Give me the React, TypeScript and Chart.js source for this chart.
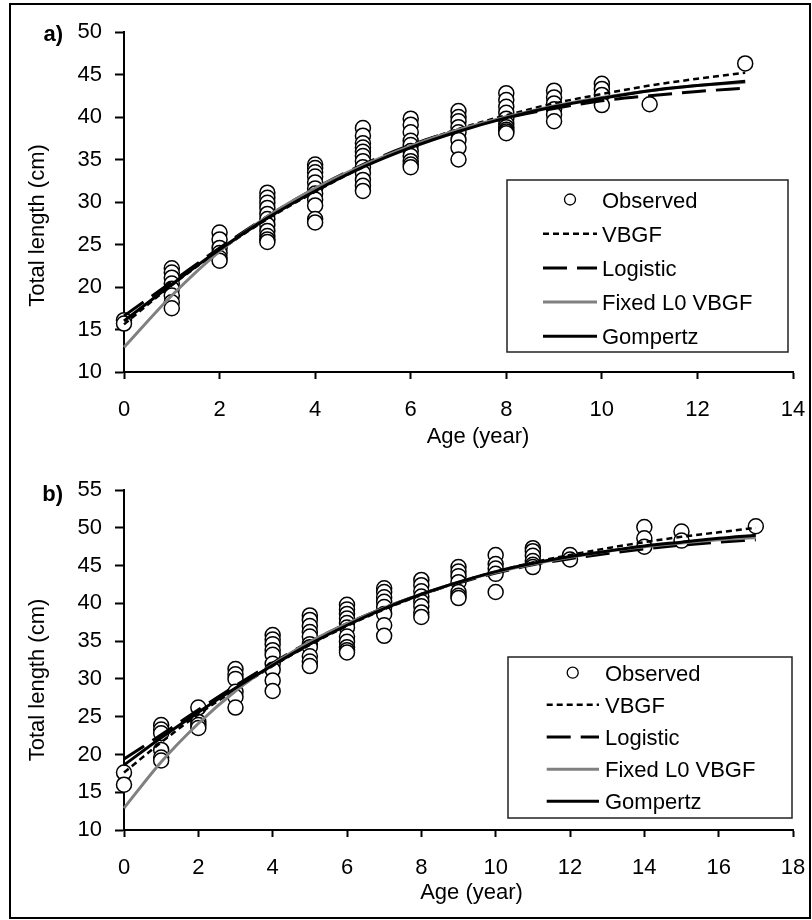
import { useEffect, useRef } from "react";
import { Chart, registerables } from "chart.js";

Chart.register(...registerables);

const FONT_FAMILY = '"Liberation Sans", Arial, Helvetica, sans-serif';
const FONT_SIZE = 22;

const SERIES_NAMES = ["Observed", "VBGF", "Logistic", "Fixed L0 VBGF", "Gompertz"];
const X_TITLE = "Age (year)";
const Y_TITLE = "Total length (cm)";

// ---------- Panel a ----------
const obsAgesA = [0, 1, 2, 3, 4, 5, 6, 7, 8, 9, 10, 11, 13];
const obsLengthsA = [
  [16.1, 15.7],
  [22.2, 21.7, 21.1, 20.4, 19.8, 19.0, 18.2, 17.5],
  [26.4, 25.6, 24.6, 24.0, 23.4, 23.1],
  [31.1, 30.5, 29.9, 29.3, 28.6, 28.0, 27.3, 26.6, 26.0, 25.6, 25.3],
  [34.4, 34.0, 33.5, 33.0, 32.3, 31.6, 31.0, 30.3, 29.6, 28.0, 27.6],
  [38.7, 37.8, 36.9, 36.4, 35.9, 35.4, 34.8, 34.1, 33.4, 32.6, 31.9, 31.3],
  [39.8, 39.1, 38.2, 37.2, 36.7, 36.0, 35.4, 34.8, 34.4, 34.1],
  [40.7, 40.0, 39.5, 38.8, 38.2, 37.3, 36.4, 35.0],
  [42.8, 42.0, 41.2, 40.5, 39.8, 39.2, 38.8, 38.5, 38.3, 38.1],
  [43.1, 42.3, 41.6, 40.9, 40.3, 39.5],
  [43.9, 43.3, 42.6, 41.4],
  [41.5],
  [46.3],
];
const curveAgesA = [0, 1, 2, 3, 4, 5, 6, 7, 8, 9, 10, 11, 12, 13];
const vbgfA = [15.6, 20.2, 24.3, 28.0, 31.2, 34.1, 36.6, 38.6, 40.2, 41.6, 42.7, 43.7, 44.5, 45.2];
const logisticA = [16.6, 20.6, 24.6, 28.3, 31.6, 34.4, 36.7, 38.5, 39.9, 41.0, 41.9, 42.5, 43.0, 43.4];
const fixedL0A = [12.9, 19.0, 24.2, 28.3, 31.6, 34.3, 36.6, 38.5, 40.0, 41.3, 42.3, 43.1, 43.7, 44.1];
const gompertzA = [16.0, 20.3, 24.4, 28.1, 31.3, 34.1, 36.4, 38.3, 39.9, 41.2, 42.2, 43.1, 43.7, 44.2];
const xTicksA = [0, 2, 4, 6, 8, 10, 12, 14];
const yTicksA = [10, 15, 20, 25, 30, 35, 40, 45, 50];

// ---------- Panel b ----------
const obsAgesB = [0, 1, 2, 3, 4, 5, 6, 7, 8, 9, 10, 11, 12, 14, 15, 17];
const obsLengthsB = [
  [17.6, 16.0],
  [23.9, 23.3, 22.8, 20.6, 19.6, 19.2],
  [26.2, 24.3, 23.9, 23.5],
  [31.3, 30.6, 30.0, 28.3, 27.6, 26.2],
  [35.8, 35.2, 34.6, 33.8, 33.2, 32.0, 31.2, 29.8, 28.4],
  [38.4, 37.8, 37.0, 36.2, 35.6, 34.6, 34.2, 33.0, 32.3, 31.7],
  [39.8, 39.2, 38.6, 38.0, 37.4, 36.8, 35.6, 34.9, 34.2, 33.8, 33.5],
  [42.0, 41.5, 40.8, 40.2, 39.5, 38.6, 37.1, 35.7],
  [43.1, 42.4, 41.6, 40.9, 40.2, 39.6, 38.8, 38.2],
  [44.8, 44.2, 43.6, 42.8, 41.5, 41.0, 40.7],
  [46.4, 45.2, 44.6, 43.9, 41.5],
  [47.3, 46.9, 46.3, 45.6, 45.1, 44.8],
  [46.4, 45.8],
  [50.1, 48.6, 47.5],
  [49.5, 48.3],
  [50.2],
];
const curveAgesB = [0, 1, 2, 3, 4, 5, 6, 7, 8, 9, 10, 11, 12, 13, 14, 15, 16, 17];
const vbgfB = [17.6, 21.6, 25.3, 28.6, 31.7, 34.5, 37.0, 39.2, 41.1, 42.8, 44.2, 45.4, 46.4, 47.3, 48.1, 48.8, 49.4, 50.0];
const logisticB = [19.4, 22.6, 25.9, 29.1, 32.1, 34.9, 37.3, 39.4, 41.2, 42.7, 44.0, 45.1, 45.9, 46.6, 47.2, 47.7, 48.1, 48.4];
const fixedL0B = [12.9, 19.0, 24.1, 28.4, 31.9, 34.9, 37.3, 39.4, 41.2, 42.8, 44.1, 45.2, 46.1, 46.9, 47.5, 48.0, 48.4, 48.7];
const gompertzB = [18.6, 22.2, 25.6, 28.8, 31.8, 34.6, 37.1, 39.3, 41.2, 42.8, 44.2, 45.3, 46.2, 46.9, 47.6, 48.1, 48.6, 49.0];
const xTicksB = [0, 2, 4, 6, 8, 10, 12, 14, 16, 18];
const yTicksB = [10, 15, 20, 25, 30, 35, 40, 45, 50, 55];

// Line styles for the four fitted models, in SERIES_NAMES order after "Observed".
const CURVE_STYLES = [
  { color: "#000000", width: 2.5, dash: [6, 4] },
  { color: "#000000", width: 3, dash: [24, 10] },
  { color: "#808080", width: 3, dash: [] as number[] },
  { color: "#000000", width: 3, dash: [] as number[] },
];

interface LegendBox {
  insetRight: number;
  insetBottom: number;
  width: number;
  height: number;
  firstRow: number;
  rowStep: number;
  lineX0: number;
  lineX1: number;
  markerX: number;
  textX: number;
}

interface PanelSpec {
  tag: string;
  obsAges: number[];
  obsLengths: number[][];
  curveAges: number[];
  curves: number[][];
  xTicks: number[];
  yTicks: number[];
  top: number;
  xAxisHeight: number;
  tagDrop: number;
  xTitleShift: number;
  xTitleDrop: number;
  yTitleShift: number;
  legend: LegendBox;
}

const PANELS: PanelSpec[] = [
  {
    tag: "a)",
    obsAges: obsAgesA,
    obsLengths: obsLengthsA,
    curveAges: curveAgesA,
    curves: [vbgfA, logisticA, fixedL0A, gompertzA],
    xTicks: xTicksA,
    yTicks: yTicksA,
    top: 32,
    xAxisHeight: 88,
    tagDrop: 9,
    xTitleShift: 19.5,
    xTitleDrop: 71,
    yTitleShift: 23.5,
    legend: {
      insetRight: 5,
      insetBottom: 20,
      width: 281,
      height: 172,
      firstRow: 19.5,
      rowStep: 34.2,
      lineX0: 36,
      lineX1: 90,
      markerX: 63,
      textX: 95,
    },
  },
  {
    tag: "b)",
    obsAges: obsAgesB,
    obsLengths: obsLengthsB,
    curveAges: curveAgesB,
    curves: [vbgfB, logisticB, fixedL0B, gompertzB],
    xTicks: xTicksB,
    yTicks: yTicksB,
    top: 30,
    xAxisHeight: 90,
    tagDrop: 11,
    xTitleShift: 13,
    xTitleDrop: 69,
    yTitleShift: 20,
    legend: {
      insetRight: 1,
      insetBottom: 12,
      width: 284,
      height: 161,
      firstRow: 15.7,
      rowStep: 32.15,
      lineX0: 38.7,
      lineX1: 91,
      markerX: 64.7,
      textX: 97,
    },
  },
];

const CANVAS_W = 812;
const CANVAS_H = 460;
const Y_AXIS_W = 80;
const PLOT_LEFT = 124;
const PLOT_RIGHT = 793;

// Panel tag, axis titles and the boxed legend drawn inside the plot area.
const panelDecor = {
  id: "panelDecor",
  afterDraw(chart: any, _args: any, opts: any) {
    const { ctx, chartArea: ca } = chart;
    const spec: PanelSpec = opts.spec;
    ctx.save();
    ctx.fillStyle = "#000";
    ctx.textBaseline = "alphabetic";

    ctx.font = `bold ${FONT_SIZE}px ${FONT_FAMILY}`;
    ctx.textAlign = "right";
    ctx.fillText(spec.tag, ca.left - 61, ca.top + spec.tagDrop);

    ctx.font = `${FONT_SIZE}px ${FONT_FAMILY}`;
    ctx.textAlign = "center";
    ctx.fillText(X_TITLE, (ca.left + ca.right) / 2 + spec.xTitleShift, ca.bottom + spec.xTitleDrop);

    ctx.save();
    ctx.translate(ca.left - 80, (ca.top + ca.bottom) / 2 + spec.yTitleShift);
    ctx.rotate(-Math.PI / 2);
    ctx.fillText(Y_TITLE, 0, 0);
    ctx.restore();

    const lg = spec.legend;
    const bx = ca.right - lg.insetRight - lg.width;
    const by = ca.bottom - lg.insetBottom - lg.height;
    ctx.setLineDash([]);
    ctx.lineWidth = 1.5;
    ctx.strokeStyle = "#222";
    ctx.strokeRect(bx, by, lg.width, lg.height);

    ctx.textAlign = "left";
    chart.data.datasets.forEach((ds: any, i: number) => {
      const cy = by + lg.firstRow + i * lg.rowStep;
      if (ds.showLine) {
        ctx.save();
        ctx.strokeStyle = ds.borderColor;
        ctx.lineWidth = ds.borderWidth;
        ctx.setLineDash(ds.borderDash || []);
        ctx.beginPath();
        ctx.moveTo(bx + lg.lineX0, cy);
        ctx.lineTo(bx + lg.lineX1, cy);
        ctx.stroke();
        ctx.restore();
      } else {
        ctx.save();
        ctx.setLineDash([]);
        ctx.fillStyle = "#fff";
        ctx.strokeStyle = "#000";
        ctx.lineWidth = 1.3;
        ctx.beginPath();
        ctx.arc(bx + lg.markerX, cy, 5.5, 0, Math.PI * 2);
        ctx.fill();
        ctx.stroke();
        ctx.restore();
      }
      ctx.fillStyle = "#000";
      ctx.fillText(ds.label, bx + lg.textX, cy + 8);
    });
    ctx.restore();
  },
};

function observedPoints(ages: number[], groups: number[][]) {
  const pts: { x: number; y: number }[] = [];
  ages.forEach((age, i) => groups[i].forEach((v) => pts.push({ x: age, y: v })));
  return pts;
}

function curvePoints(ages: number[], values: number[]) {
  return ages.map((a, i) => ({ x: a, y: values[i] }));
}

function axisOptions(ticks: number[], isX: boolean, fit: (s: any) => void) {
  return {
    type: "linear" as const,
    min: ticks[0],
    max: ticks[ticks.length - 1],
    afterBuildTicks: (s: any) => {
      s.ticks = ticks.map((v) => ({ value: v }));
    },
    afterFit: (s: any) => {
      // keep the plot area where the layout padding puts it
      s.paddingLeft = 0;
      s.paddingRight = 0;
      s.paddingTop = 0;
      s.paddingBottom = 0;
      fit(s);
    },
    ticks: {
      color: "#000",
      font: { family: FONT_FAMILY, size: FONT_SIZE },
      padding: isX ? 18 : 13,
      maxRotation: 0,
      minRotation: 0,
      autoSkip: false,
    },
    grid: {
      display: true,
      drawOnChartArea: false,
      drawTicks: true,
      tickLength: isX ? 7 : 9,
      tickColor: "#000",
      tickWidth: 2,
      color: "#000",
    },
    border: { display: true, color: "#000", width: 2 },
  };
}

function buildConfig(spec: PanelSpec): any {
  const datasets: any[] = [
    {
      label: SERIES_NAMES[0],
      data: observedPoints(spec.obsAges, spec.obsLengths),
      showLine: false,
      pointStyle: "circle",
      pointRadius: 7.5,
      pointHoverRadius: 7.5,
      pointBackgroundColor: "#ffffff",
      pointBorderColor: "#000000",
      pointBorderWidth: 1.5,
      backgroundColor: "#ffffff",
      borderColor: "#000000",
      clip: false,
      order: 10,
    },
  ];
  spec.curves.forEach((values, i) => {
    const st = CURVE_STYLES[i];
    datasets.push({
      label: SERIES_NAMES[i + 1],
      data: curvePoints(spec.curveAges, values),
      showLine: true,
      fill: false,
      pointRadius: 0,
      pointHoverRadius: 0,
      borderColor: st.color,
      backgroundColor: st.color,
      borderWidth: st.width,
      borderDash: st.dash,
      cubicInterpolationMode: "monotone",
      clip: false,
      order: 4 - i,
    });
  });

  return {
    type: "scatter",
    data: { datasets },
    options: {
      responsive: false,
      maintainAspectRatio: false,
      animation: false,
      devicePixelRatio: 1,
      events: [],
      layout: {
        padding: {
          left: PLOT_LEFT - Y_AXIS_W,
          right: CANVAS_W - PLOT_RIGHT,
          top: spec.top,
          bottom: 0,
        },
      },
      scales: {
        x: axisOptions(spec.xTicks, true, (s: any) => {
          s.height = spec.xAxisHeight;
        }),
        y: axisOptions(spec.yTicks, false, (s: any) => {
          s.width = Y_AXIS_W;
        }),
      },
      plugins: {
        legend: { display: false },
        tooltip: { enabled: false },
        panelDecor: { spec },
      },
    },
    plugins: [panelDecor],
  };
}

function Panel({ spec, top }: { spec: PanelSpec; top: number }) {
  const ref = useRef<HTMLCanvasElement | null>(null);
  useEffect(() => {
    if (!ref.current) return;
    const chart = new Chart(ref.current, buildConfig(spec));
    return () => chart.destroy();
  }, [spec]);
  return (
    <canvas
      ref={ref}
      width={CANVAS_W}
      height={CANVAS_H}
      style={{ position: "absolute", left: 0, top, width: CANVAS_W, height: CANVAS_H, display: "block" }}
    />
  );
}

export default function App() {
  useEffect(() => {
    document.body.style.margin = "0";
    document.body.style.background = "#fff";
  }, []);
  return (
    <div
      style={{
        position: "relative",
        width: CANVAS_W,
        height: CANVAS_H * 2,
        overflow: "hidden",
        background: "#fff",
      }}
    >
      <Panel spec={PANELS[0]} top={0} />
      <Panel spec={PANELS[1]} top={CANVAS_H} />
      <div
        style={{
          position: "absolute",
          left: 9,
          top: 3,
          width: 798,
          height: 912,
          border: "2px solid #000",
          pointerEvents: "none",
        }}
      />
    </div>
  );
}
